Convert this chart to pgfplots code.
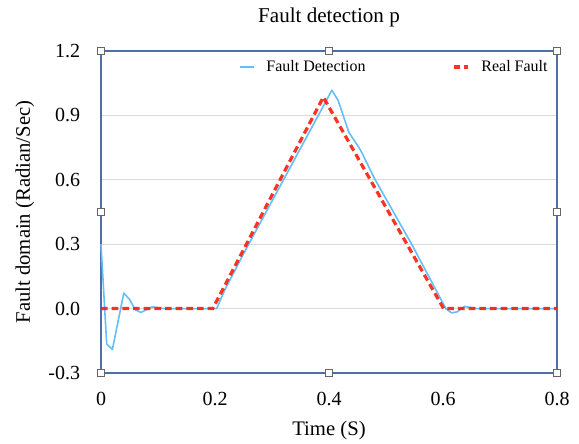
\documentclass[border=0pt]{standalone}
\usepackage{pgfplots}
\pgfplotsset{compat=1.18}
\usepackage{fontspec}
\setmainfont{Liberation Serif}
\definecolor{axblue}{RGB}{79,109,168}
\definecolor{gridgray}{RGB}{217,217,217}
\definecolor{detblue}{RGB}{100,190,250}
\definecolor{realred}{RGB}{250,30,10}
\tikzset{handle/.style={draw=gray!80!black, fill=white, minimum size=5pt, inner sep=0pt, line width=0.5pt}}
\begin{document}
\begin{tikzpicture}
\begin{axis}[
  scale only axis,
  width=342pt, height=241.5pt,
  xmin=0, xmax=0.8, ymin=-0.3, ymax=1.2,
  xtick={0,0.2,0.4,0.6,0.8},
  xticklabels={0,0.2,0.4,0.6,0.8},
  ytick={-0.3,0,0.3,0.6,0.9,1.2},
  yticklabels={-0.3,0.0,0.3,0.6,0.9,1.2},
  major tick length=0pt,
  ymajorgrids,
  major grid style={draw=gridgray, line width=0.9pt},
  axis line style={draw=axblue, line width=1.2pt},
  tick label style={font=\fontsize{15}{18}\selectfont},
  xticklabel style={anchor=north, inner sep=0pt, yshift=-14pt},
  yticklabel style={anchor=east, inner sep=0pt, xshift=-15.5pt},
  label style={font=\fontsize{15.5}{18}\selectfont},
  xlabel={Time (S)},
  ylabel={Fault domain (Radian/Sec)},
  xlabel style={at={(axis description cs:0.5,-0.18)}, anchor=center},
  ylabel style={at={(axis description cs:-0.1667,0.5)}, anchor=center},
  title={Fault detection p},
  title style={font=\fontsize{15.8}{18}\selectfont, at={(axis description cs:0.5,1.08)}, anchor=center},
  legend columns=2,
  legend style={at={(axis description cs:0.98,0.95)}, anchor=east, draw=none, fill=none,
    inner sep=0pt, font=\fontsize{12}{14}\selectfont,
    nodes={inner sep=0pt},
    /tikz/every odd column/.append style={column sep=9pt},
    /tikz/every even column/.append style={column sep=65pt}},
  legend image code/.code={\draw[#1] (0pt,0pt) -- (10.5pt,0pt);},
  clip=false,
]
\addplot[detblue, line width=1.2pt, line join=round] coordinates {
(0,0.30) (0.01,-0.165) (0.02,-0.19) (0.04,0.072) (0.05,0.043) (0.06,-0.005)
(0.07,-0.018) (0.09,0.008) (0.11,0) (0.203,0) (0.217,0.086) (0.25,0.255)
(0.405,1.017) (0.416,0.97) (0.435,0.82) (0.455,0.74) (0.48,0.605)
(0.545,0.30) (0.605,0) (0.615,-0.02) (0.625,-0.015) (0.638,0.01)
(0.65,0.004) (0.66,0) (0.8,0)
};
\addlegendentry{Fault Detection}
\addplot[realred, line width=2.4pt, dash pattern=on 5pt off 3pt, opacity=0.9] coordinates {
(0,0) (0.196,0) (0.39,0.985) (0.601,0) (0.8,0)
};
\addlegendentry{Real Fault}
\node[handle] at (rel axis cs:0,0) {};
\node[handle] at (rel axis cs:0.5,0) {};
\node[handle] at (rel axis cs:1,0) {};
\node[handle] at (rel axis cs:0,0.5) {};
\node[handle] at (rel axis cs:1,0.5) {};
\node[handle] at (rel axis cs:0,1) {};
\node[handle] at (rel axis cs:0.5,1) {};
\node[handle] at (rel axis cs:1,1) {};
\coordinate (bl) at (rel axis cs:0,0);
\coordinate (tr) at (rel axis cs:1,1);
\end{axis}
\pgfresetboundingbox
\path (bl) ++(-75.75pt,-53.25pt) coordinate (A);
\path (tr) ++(16.5pt,38.25pt) coordinate (B);
\path[use as bounding box] (A) rectangle (B);
\end{tikzpicture}
\end{document}
